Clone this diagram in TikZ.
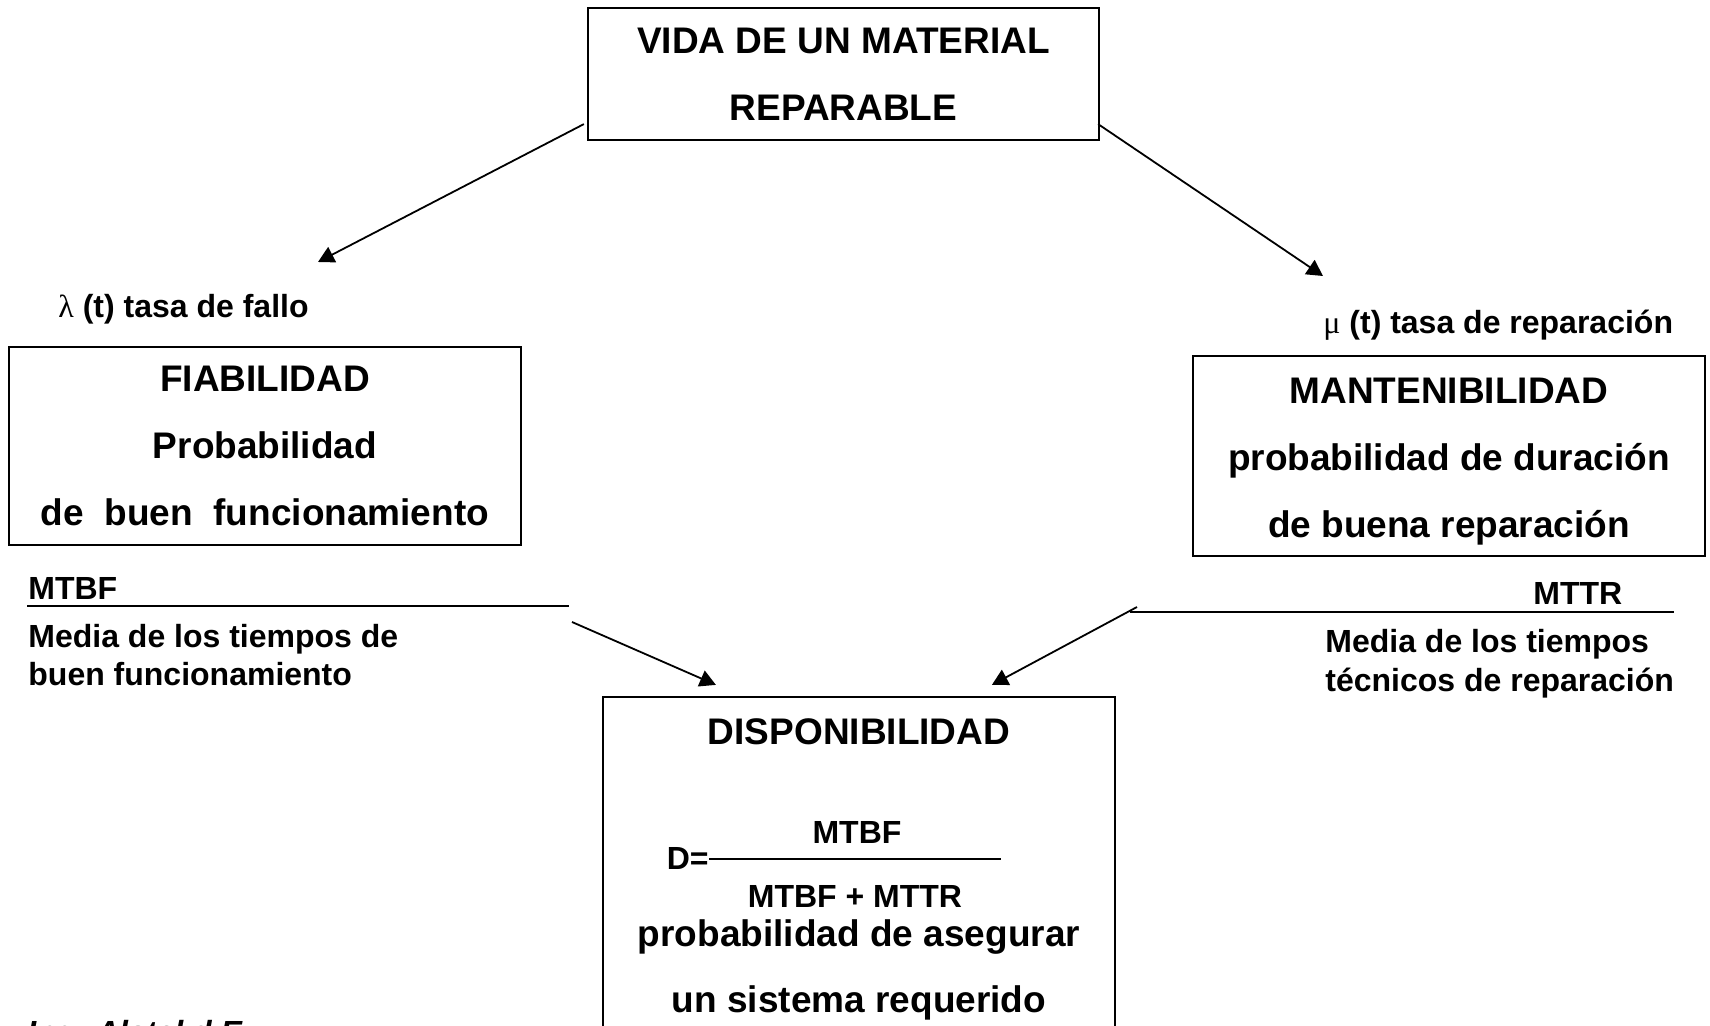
\documentclass[tikz,border=0pt]{standalone}
\usepackage{fontspec}
\setmainfont{Liberation Sans}
\newfontfamily\grk{Liberation Serif}
\usetikzlibrary{arrows.meta}
\begin{document}
\begin{tikzpicture}[x=0.5pt,y=-0.5pt,
  box/.style={draw, line width=1.1pt, inner sep=0pt, align=center, font=\bfseries\fontsize{18.5}{33.5}\selectfont},
  big/.style={inner sep=0pt, font=\bfseries\fontsize{18.5}{33.5}\selectfont},
  small/.style={inner sep=0pt, font=\bfseries\fontsize{16}{19}\selectfont},
  arr/.style={line width=0.9pt, -{Triangle[length=8pt,width=8.5pt]}},
  rulel/.style={line width=0.8pt}]
\clip (0,0) rectangle (1710,1026);
\fill[white] (0,0) rectangle (1710,1026);

% boxes
\node[box, minimum width=255.5pt, minimum height=66pt] (top) at (843.5,74) {VIDA DE UN MATERIAL\\REPARABLE};
\node[box, minimum width=256pt, minimum height=99pt] (fiab) at (265,446) {FIABILIDAD\\Probabilidad\\de\ \ buen\ \ funcionamiento};
\node[box, minimum width=256pt, minimum height=100pt] (mant) at (1449,456) {};
\node[big, anchor=base] (m1) at (1449,403.5) {MANTENIBILIDAD};
\node[big, anchor=base] (m2) at (1449,470.5) {probabilidad de duración};
\node[big, anchor=base] (m3) at (1449,537.5) {de buena reparación};
\node[box, minimum width=256pt, minimum height=181.5pt] (disp) at (859,878.5) {};

% labels
\node[small, anchor=base west] (lam) at (58,318) {{\mdseries\grk λ} (t) tasa de fallo};
\node[small, anchor=base west] (mu) at (1323,334) {{\mdseries\grk μ} (t) tasa de reparación};

\node[small, anchor=base west] (mtbf) at (28,600) {MTBF};
\coordinate (mtbfL) at (27,606);
\coordinate (mtbfR) at (569,606);
\draw[rulel] (mtbfL) -- (mtbfR);
\node[small, anchor=base west] (mtbf1) at (28,648) {Media de los tiempos de};
\node[small, anchor=base west] (mtbf2) at (28,686) {buen funcionamiento};

\node[small, anchor=base west] (mttr) at (1533,605) {MTTR};
\coordinate (mttrL) at (1130,612);
\coordinate (mttrR) at (1674,612);
\draw[rulel] (mttrL) -- (mttrR);
\node[small, anchor=base west] (mttr1) at (1325,653) {Media de los tiempos};
\node[small, anchor=base west] (mttr2) at (1325,691) {técnicos de reparación};

% inside disponibilidad
\node[big, anchor=base] (dt) at (859,745) {DISPONIBILIDAD};
\node[small, anchor=base] (num) at (857,843) {MTBF};
\node[small, anchor=base east] (deq) at (709,869) {D=};
\coordinate (fracR) at (1001,859);
\draw[rulel] (deq.east |- fracR) -- (fracR);
\node[small, anchor=base] (den) at (855,907) {MTBF + MTTR};
\node[big, anchor=base] (p1) at (859,946) {probabilidad de asegurar};
\node[big, anchor=base] (p2) at (859,1012) {un sistema requerido};

% clipped footer
\node[small, anchor=base west, font=\bfseries\itshape\fontsize{16}{19}\selectfont] (foot) at (27,1043) {Ing. Alatel d   E};

% arrows
\coordinate (l1) at (318,262);
\coordinate (r1) at (1323,276);
\coordinate (mtbfS) at (572,622);
\coordinate (mttrS) at (1137,607);
\draw[arr] ([xshift=-1.5pt,yshift=8.5pt]top.south west) -- (l1);
\draw[arr] ([xshift=-1pt,yshift=8.5pt]top.south east) -- (r1);
\draw[arr] (mtbfS) -- ([xshift=57pt,yshift=5.5pt]disp.north west);
\draw[arr] (mttrS) -- ([xshift=195pt,yshift=5.5pt]disp.north west);
\end{tikzpicture}
\end{document}
